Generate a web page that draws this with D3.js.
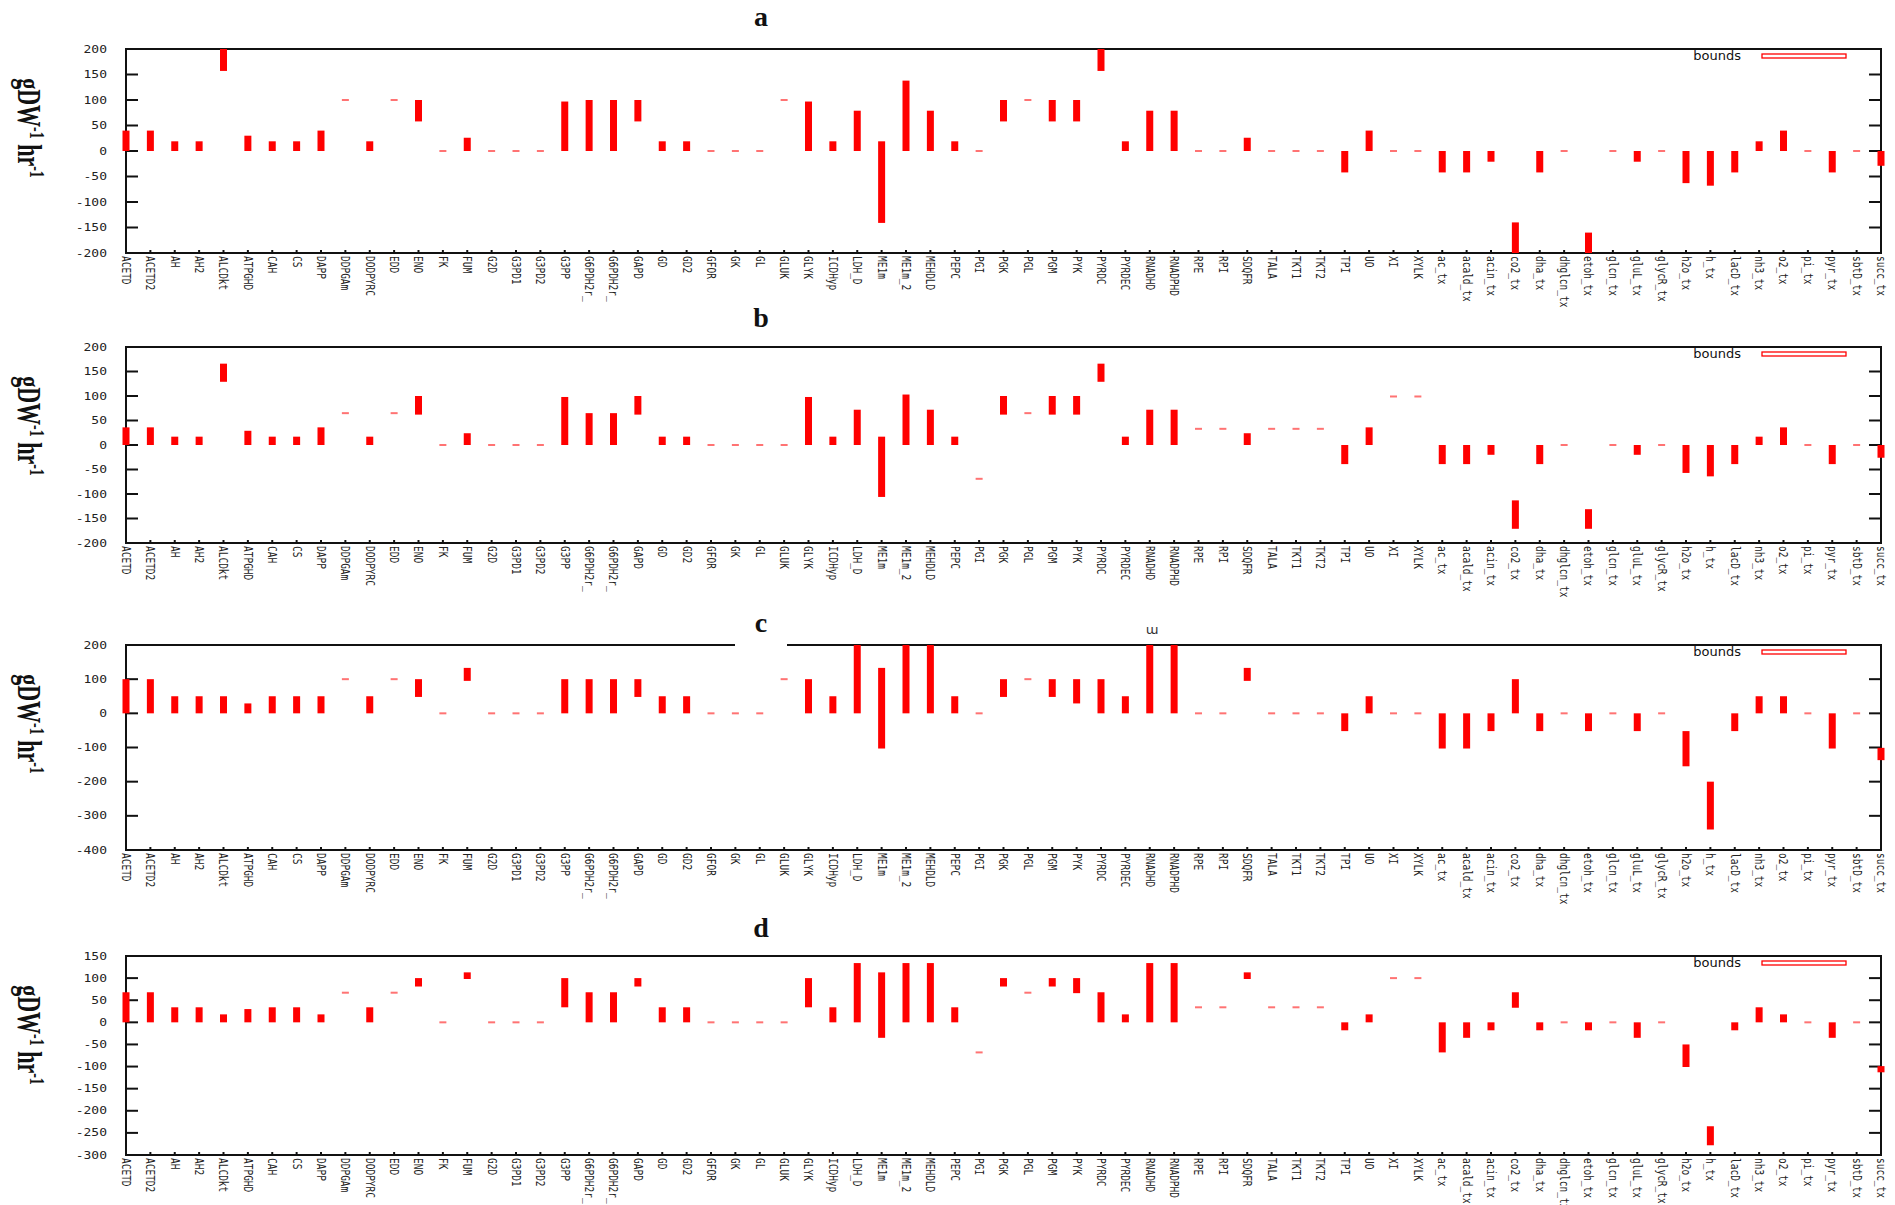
<!DOCTYPE html>
<html>
<head>
<meta charset="utf-8">
<script src="https://cdn.jsdelivr.net/npm/d3@7"></script>
<style>
  body { margin: 0; background: #fff; }
</style>
</head>
<body>
<div id="chart"></div>
<script>
// Reaction names along the x axis (same for all four panels)
const reactions = [
  'ACETD', 'ACETD2', 'AH', 'AH2', 'ALCDkt', 'ATPGHD', 'CAH', 'CS', 'DAPP', 'DDPGAm',
  'DODPYRC', 'EDD', 'ENO', 'FK', 'FUM', 'G2D', 'G3PD1', 'G3PD2', 'G3PP', 'G6PDH2r_',
  'G6PDH2r_', 'GAPD', 'GD', 'GD2', 'GFOR', 'GK', 'GL', 'GLUK', 'GLYK', 'ICDHyp',
  'LDH_D', 'ME1m', 'ME1m_2', 'MEHDLD', 'PEPC', 'PGI', 'PGK', 'PGL', 'PGM', 'PYK',
  'PYRDC', 'PYRDEC', 'RNADHD', 'RNADPHD', 'RPE', 'RPI', 'SDQFR', 'TALA', 'TKT1', 'TKT2',
  'TPI', 'UO', 'XI', 'XYLK', 'ac_tx', 'acald_tx', 'acin_tx', 'co2_tx', 'dha_tx', 'dhglcn_tx',
  'etoh_tx', 'glcn_tx', 'gluL_tx', 'glycR_tx', 'h2o_tx', 'h_tx', 'lacD_tx', 'nh3_tx', 'o2_tx', 'pi_tx',
  'pyr_tx', 'sbtD_tx', 'succ_tx'
];

// [lower, upper] flux bounds per reaction, one array per panel
const boundsA = [
  [0, 40], [0, 40], [0, 19], [0, 19], [157, 200], [0, 30], [0, 19], [0, 19], [0, 40], [100, 100],
  [0, 19], [100, 100], [58, 100], [0, 0], [0, 26], [0, 0], [0, 0], [0, 0], [0, 97], [0, 100],
  [0, 100], [58, 100], [0, 19], [0, 19], [0, 0], [0, 0], [0, 0], [100, 100], [0, 97], [0, 19],
  [0, 79], [-141, 19], [0, 138], [0, 79], [0, 19], [0, 0], [58, 100], [100, 100], [58, 100], [58, 100],
  [157, 200], [0, 19], [0, 79], [0, 79], [0, 0], [0, 0], [0, 26], [0, 0], [0, 0], [0, 0],
  [-42, 0], [0, 40], [0, 0], [0, 0], [-42, 0], [-42, 0], [-21, 0], [-200, -140], [-42, 0], [0, 0],
  [-200, -160], [0, 0], [-21, 0], [0, 0], [-63, 0], [-68, 0], [-42, 0], [0, 19], [0, 40], [0, 0],
  [-42, 0], [0, 0], [-29, 0]
];

const boundsB = [
  [0, 36], [0, 36], [0, 17], [0, 17], [129, 166], [0, 29], [0, 17], [0, 17], [0, 36], [65, 65],
  [0, 17], [65, 65], [62, 100], [0, 0], [0, 24], [0, 0], [0, 0], [0, 0], [0, 98], [0, 65],
  [0, 65], [62, 100], [0, 17], [0, 17], [0, 0], [0, 0], [0, 0], [0, 0], [0, 98], [0, 17],
  [0, 72], [-106, 17], [0, 103], [0, 72], [0, 17], [-69, -69], [62, 100], [65, 65], [62, 100], [62, 100],
  [129, 166], [0, 17], [0, 72], [0, 72], [33, 33], [33, 33], [0, 24], [33, 33], [33, 33], [33, 33],
  [-39, 0], [0, 36], [99, 99], [99, 99], [-39, 0], [-39, 0], [-20, 0], [-171, -113], [-39, 0], [0, 0],
  [-171, -131], [0, 0], [-20, 0], [0, 0], [-57, 0], [-64, 0], [-39, 0], [0, 17], [0, 36], [0, 0],
  [-39, 0], [0, 0], [-26, 0]
];

const boundsC = [
  [0, 100], [0, 100], [0, 50], [0, 50], [0, 50], [0, 29], [0, 50], [0, 50], [0, 50], [100, 100],
  [0, 50], [100, 100], [48, 100], [0, 0], [95, 133], [0, 0], [0, 0], [0, 0], [0, 100], [0, 100],
  [0, 100], [48, 100], [0, 50], [0, 50], [0, 0], [0, 0], [0, 0], [100, 100], [0, 100], [0, 50],
  [0, 200], [-103, 133], [0, 200], [0, 200], [0, 50], [0, 0], [48, 100], [100, 100], [48, 100], [29, 100],
  [0, 100], [0, 50], [0, 200], [0, 200], [0, 0], [0, 0], [95, 133], [0, 0], [0, 0], [0, 0],
  [-52, 0], [0, 50], [0, 0], [0, 0], [-103, 0], [-103, 0], [-52, 0], [0, 100], [-52, 0], [0, 0],
  [-52, 0], [0, 0], [-52, 0], [0, 0], [-155, -52], [-340, -200], [-52, 0], [0, 50], [0, 50], [0, 0],
  [-103, 0], [0, 0], [-137, -101]
];

const boundsD = [
  [0, 68], [0, 68], [0, 34], [0, 34], [0, 18], [0, 30], [0, 34], [0, 34], [0, 18], [67, 67],
  [0, 34], [67, 67], [81, 100], [0, 0], [98, 113], [0, 0], [0, 0], [0, 0], [34, 100], [0, 68],
  [0, 68], [81, 100], [0, 34], [0, 34], [0, 0], [0, 0], [0, 0], [0, 0], [34, 100], [0, 34],
  [0, 134], [-35, 113], [0, 134], [0, 134], [0, 34], [-68, -68], [81, 100], [67, 67], [81, 100], [66, 100],
  [0, 68], [0, 18], [0, 134], [0, 134], [34, 34], [34, 34], [98, 113], [34, 34], [34, 34], [34, 34],
  [-18, 0], [0, 18], [100, 100], [100, 100], [-68, 0], [-35, 0], [-18, 0], [33, 68], [-18, 0], [0, 0],
  [-18, 0], [0, 0], [-35, 0], [0, 0], [-101, -50], [-278, -235], [-18, 0], [0, 34], [0, 18], [0, 0],
  [-35, 0], [0, 0], [-113, -99]
];

const yDomainA = [-200, 200], yTicksA = d3.range(-200, 201, 50);
const yDomainB = [-200, 200], yTicksB = d3.range(-200, 201, 50);
const yDomainC = [-400, 200], yTicksC = d3.range(-400, 201, 100);
const yDomainD = [-300, 150], yTicksD = d3.range(-300, 151, 50);

const panels = [
  { title: 'a', titleY: 26, top: 49, bottom: 253, domain: yDomainA, ticks: yTicksA, bounds: boundsA },
  { title: 'b', titleY: 327, top: 347, bottom: 543, domain: yDomainB, ticks: yTicksB, bounds: boundsB },
  { title: 'c', titleY: 632, top: 645, bottom: 850, domain: yDomainC, ticks: yTicksC, bounds: boundsC },
  { title: 'd', titleY: 937, top: 956, bottom: 1155, domain: yDomainD, ticks: yTicksD, bounds: boundsD }
];

const width = 1895;
const height = 1205;
const left = 126;
const right = 1881;
const barW = 7;

const svg = d3.select('#chart')
  .append('svg')
  .attr('width', width)
  .attr('height', height)
  .attr('viewBox', `0 0 ${width} ${height}`);

const x = d3.scalePoint()
  .domain(d3.range(reactions.length))
  .range([left, right])
  .padding(0);

panels.forEach(p => {
  const g = svg.append('g');

  const y = d3.scaleLinear()
    .domain(p.domain)
    .range([p.bottom, p.top]);

  // Frame
  g.append('rect')
    .attr('x', left)
    .attr('y', p.top)
    .attr('width', right - left)
    .attr('height', p.bottom - p.top)
    .attr('fill', 'none')
    .attr('stroke', '#111')
    .attr('stroke-width', 2);

  // Y ticks, inward on both sides
  g.append('g')
    .selectAll('line.lt')
    .data(p.ticks)
    .join('line')
    .attr('x1', left)
    .attr('x2', left + 12)
    .attr('y1', d => y(d))
    .attr('y2', d => y(d))
    .attr('stroke', '#111')
    .attr('stroke-width', 2);

  g.append('g')
    .selectAll('line.rt')
    .data(p.ticks)
    .join('line')
    .attr('x1', right - 12)
    .attr('x2', right)
    .attr('y1', d => y(d))
    .attr('y2', d => y(d))
    .attr('stroke', '#111')
    .attr('stroke-width', 2);

  // Y tick labels
  g.append('g')
    .selectAll('text')
    .data(p.ticks)
    .join('text')
    .attr('transform', d => `translate(107,${y(d)}) scale(1.3,1)`)
    .attr('dy', '0.35em')
    .attr('text-anchor', 'end')
    .attr('font-family', 'DejaVu Sans Mono, monospace')
    .attr('font-size', '10px')
    .attr('fill', '#222')
    .text(d => String(d));

  // X ticks (small, inward)
  g.append('g')
    .selectAll('line')
    .data(d3.range(reactions.length))
    .join('line')
    .attr('x1', d => x(d))
    .attr('x2', d => x(d))
    .attr('y1', p.bottom)
    .attr('y2', p.bottom - 3)
    .attr('stroke', '#111')
    .attr('stroke-width', 2);

  // X labels, rotated
  g.append('g')
    .selectAll('text')
    .data(reactions)
    .join('text')
    .attr('transform', (d, i) => `translate(${x(i)},${p.bottom + 3}) rotate(90) scale(1,1.2)`)
    .attr('dy', '0.35em')
    .attr('text-anchor', 'start')
    .attr('font-family', 'DejaVu Sans Mono, monospace')
    .attr('font-size', '9.5px')
    .attr('fill', '#222')
    .text(d => d);

  // Bound bars (zero-width ranges show as a thin dash)
  g.append('g')
    .selectAll('rect')
    .data(p.bounds)
    .join('rect')
    .attr('x', (d, i) => x(i) - barW / 2)
    .attr('y', d => d[1] - d[0] > 0 ? y(d[1]) : y(d[1]) - 1)
    .attr('width', barW)
    .attr('height', d => d[1] - d[0] > 0 ? y(d[0]) - y(d[1]) : 2)
    .attr('fill', '#ff0000')
    .attr('opacity', d => d[1] - d[0] > 0 ? 1 : 0.55);

  // Legend
  g.append('text')
    .attr('x', 1741)
    .attr('y', p.top + 11)
    .attr('text-anchor', 'end')
    .attr('font-family', 'DejaVu Sans, sans-serif')
    .attr('font-size', '13px')
    .attr('fill', '#111')
    .text('bounds');

  g.append('rect')
    .attr('x', 1762)
    .attr('y', p.top + 5)
    .attr('width', 84)
    .attr('height', 4)
    .attr('fill', '#fff')
    .attr('stroke', '#ff0000')
    .attr('stroke-width', 1.3);

  // Panel title
  if (p.title === 'c') {
    g.append('rect')
      .attr('x', 735)
      .attr('y', p.top - 18)
      .attr('width', 52)
      .attr('height', 20)
      .attr('fill', '#fff');
  }
  g.append('text')
    .attr('x', 761)
    .attr('y', p.titleY)
    .attr('text-anchor', 'middle')
    .attr('font-family', 'Liberation Serif, serif')
    .attr('font-weight', 'bold')
    .attr('font-size', '28px')
    .attr('fill', '#111')
    .text(p.title);

  // Y axis label
  const yl = g.append('text')
    .attr('transform', `translate(28,${p.top + 79}) rotate(90) scale(1,1.5)`)
    .attr('dy', '0.3em')
    .attr('text-anchor', 'middle')
    .attr('font-family', 'Liberation Serif, serif')
    .attr('font-weight', 'bold')
    .attr('font-size', '22px')
    .attr('fill', '#111');
  yl.append('tspan').text('gDW');
  yl.append('tspan').attr('baseline-shift', 'super').attr('font-size', '14px').text('-1');
  yl.append('tspan').text(' hr');
  yl.append('tspan').attr('baseline-shift', 'super').attr('font-size', '14px').text('-1');
});

// stray mark above panel c in the original
svg.append('text')
  .attr('x', 1152)
  .attr('y', 634)
  .attr('text-anchor', 'middle')
  .attr('font-family', 'DejaVu Sans, sans-serif')
  .attr('font-size', '13px')
  .attr('fill', '#333')
  .text('ɯ');
</script>
</body>
</html>
